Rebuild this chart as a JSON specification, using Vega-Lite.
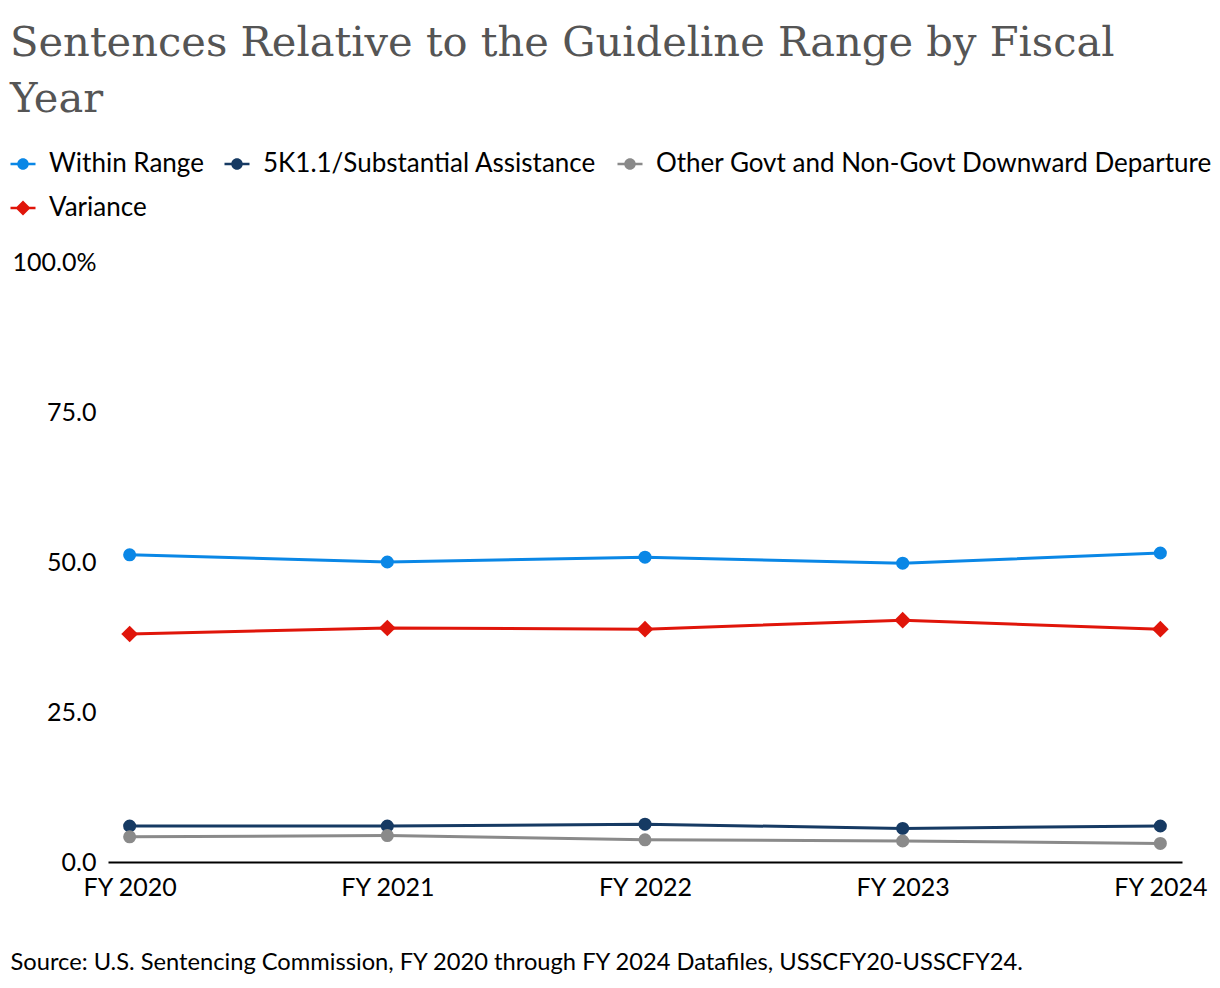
{
  "$schema": "https://vega.github.io/schema/vega-lite/v6.json",
  "width": 1074,
  "height": 600,
  "autosize": {"type": "none"},
  "padding": {"left": 108, "top": 262, "right": 38, "bottom": 126},
  "background": "white",
  "config": {"view": {"stroke": null}, "font": "Lato"},
  "title": {
    "text": ["Sentences Relative to the Guideline Range by Fiscal", "Year"],
    "anchor": "start",
    "frame": "bounds",
    "font": "DejaVu Serif",
    "fontSize": 41.6,
    "fontWeight": "normal",
    "color": "#555555",
    "lineHeight": 56,
    "offset": 30
  },
  "data": {
    "values": [
      {"year": "FY 2020", "series": "Within Range", "value": 51.2},
      {"year": "FY 2021", "series": "Within Range", "value": 50.0},
      {"year": "FY 2022", "series": "Within Range", "value": 50.8},
      {"year": "FY 2023", "series": "Within Range", "value": 49.8},
      {"year": "FY 2024", "series": "Within Range", "value": 51.5},
      {"year": "FY 2020", "series": "5K1.1/Substantial Assistance", "value": 6.0},
      {"year": "FY 2021", "series": "5K1.1/Substantial Assistance", "value": 6.0},
      {"year": "FY 2022", "series": "5K1.1/Substantial Assistance", "value": 6.3},
      {"year": "FY 2023", "series": "5K1.1/Substantial Assistance", "value": 5.6},
      {"year": "FY 2024", "series": "5K1.1/Substantial Assistance", "value": 6.0},
      {"year": "FY 2020", "series": "Other Govt and Non-Govt Downward Departure", "value": 4.2},
      {"year": "FY 2021", "series": "Other Govt and Non-Govt Downward Departure", "value": 4.4},
      {"year": "FY 2022", "series": "Other Govt and Non-Govt Downward Departure", "value": 3.7},
      {"year": "FY 2023", "series": "Other Govt and Non-Govt Downward Departure", "value": 3.5},
      {"year": "FY 2024", "series": "Other Govt and Non-Govt Downward Departure", "value": 3.1},
      {"year": "FY 2020", "series": "Variance", "value": 38.0},
      {"year": "FY 2021", "series": "Variance", "value": 39.0},
      {"year": "FY 2022", "series": "Variance", "value": 38.8},
      {"year": "FY 2023", "series": "Variance", "value": 40.3},
      {"year": "FY 2024", "series": "Variance", "value": 38.8}
    ]
  },
  "encoding": {
    "x": {
      "field": "year",
      "type": "ordinal",
      "scale": {"type": "point", "padding": 0.084},
      "axis": {
        "labelAngle": 0,
        "labelFont": "Lato",
        "labelFontSize": 25,
        "labelColor": "#000000",
        "labelPadding": 13,
        "ticks": false,
        "domain": true,
        "domainColor": "#000000",
        "domainWidth": 2,
        "grid": false,
        "title": "Source: U.S. Sentencing Commission, FY 2020 through FY 2024 Datafiles, USSCFY20-USSCFY24.",
        "titleFont": "Lato",
        "titleFontSize": 23.7,
        "titleFontWeight": "normal",
        "titleColor": "#000000",
        "titleAlign": "left",
        "titleAnchor": "start",
        "titleBaseline": "middle",
        "titleX": -98,
        "titleY": 100
      }
    },
    "y": {
      "field": "value",
      "type": "quantitative",
      "scale": {"domain": [0, 100], "nice": false},
      "axis": {
        "values": [0, 25, 50, 75, 100],
        "labelExpr": "datum.value == 100 ? '100.0%' : format(datum.value, '.1f')",
        "labelFont": "Lato",
        "labelFontSize": 25,
        "labelColor": "#000000",
        "labelPadding": 12,
        "ticks": false,
        "domain": false,
        "grid": false,
        "title": null
      }
    },
    "color": {
      "field": "series",
      "type": "nominal",
      "scale": {
        "domain": ["Within Range", "5K1.1/Substantial Assistance", "Other Govt and Non-Govt Downward Departure", "Variance"],
        "range": ["#0A87E6", "#163A63", "#8A8A8A", "#E0150A"]
      },
      "legend": {
        "title": null,
        "orient": "none",
        "legendX": -98,
        "legendY": -111,
        "direction": "horizontal",
        "columns": 3,
        "labelFont": "Lato",
        "labelFontSize": 26,
        "labelColor": "#000000",
        "labelOffset": 13,
        "labelLimit": 700,
        "columnPadding": 20,
        "rowPadding": 18,
        "symbolSize": 625,
        "symbolStrokeWidth": 0,
        "encode": {
          "symbols": {
            "update": {
              "shape": {"signal": "datum.value == 'Variance' ? 'M-1,-0.1H1V0.1H-1Z M0,-0.6L0.6,0L0,0.6L-0.6,0Z' : 'M-1,-0.1H1V0.1H-1Z M-0.46,0A0.46,0.46 0 1,1 0.46,0A0.46,0.46 0 1,1 -0.46,0Z'"},
              "size": {"value": 625},
              "fill": {"scale": "color", "field": "value"},
              "stroke": {"value": "transparent"},
              "opacity": {"value": 1}
            }
          }
        }
      }
    }
  },
  "layer": [
    {"mark": {"type": "line", "strokeWidth": 3}},
    {
      "transform": [{"filter": "datum.series != 'Variance'"}],
      "mark": {"type": "point", "shape": "circle", "filled": true, "opacity": 1, "size": 170}
    },
    {
      "transform": [{"filter": "datum.series == 'Variance'"}],
      "mark": {"type": "point", "shape": "diamond", "filled": true, "opacity": 1, "size": 280}
    }
  ]
}
